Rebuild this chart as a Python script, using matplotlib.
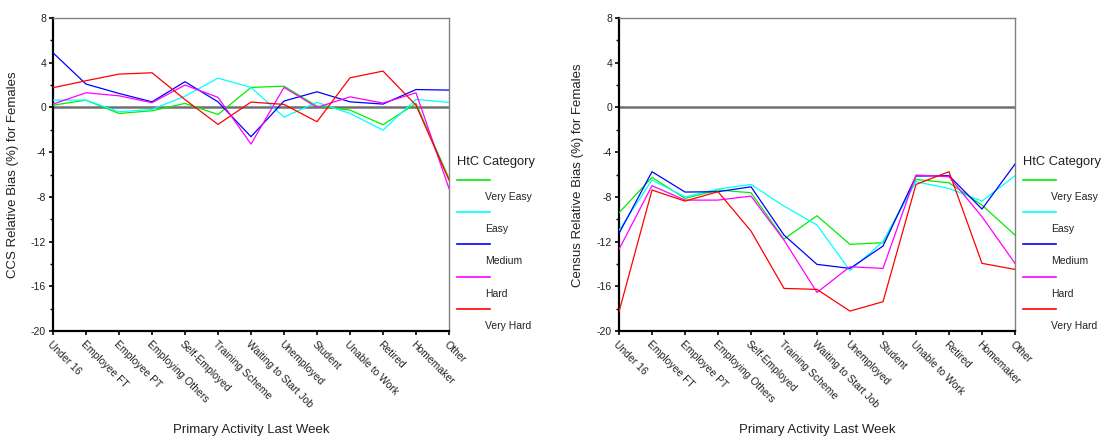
import matplotlib.pyplot as plt
from matplotlib.lines import Line2D
from matplotlib.ticker import MultipleLocator

plt.rcParams['font.family'] = ['Liberation Sans', 'DejaVu Sans']
plt.rcParams['axes.unicode_minus'] = False

categories = ["Under 16", "Employee FT", "Employee PT", "Employing Others",
              "Self-Employed", "Training Scheme", "Waiting to Start Job",
              "Unemployed", "Student", "Unable to Work", "Retired",
              "Homemaker", "Other"]
htc_labels = ["Very Easy", "Easy", "Medium", "Hard", "Very Hard"]
htc_colors = ["#00ee00", "#00ffff", "#0000ff", "#ff00ff", "#ff0000"]

# CCS relative bias (%) for females
ccs_very_easy = [0.2, 0.65, -0.54, -0.3, 0.36, -0.63, 1.79, 1.9, 0.12, -0.24, -1.55, 0.36, -6.35]
ccs_easy = [0.65, 0.65, -0.39, -0.18, 1.0, 2.62, 1.79, -0.86, 0.45, -0.54, -2.03, 0.72, 0.45]
ccs_medium = [4.89, 2.09, 1.25, 0.5, 2.3, 0.5, -2.62, 0.57, 1.4, 0.5, 0.3, 1.6, 1.55]
ccs_hard = [0.3, 1.31, 1.04, 0.42, 2.0, 0.9, -3.28, 1.79, 0.0, 0.95, 0.39, 1.31, -7.25]
ccs_very_hard = [1.76, 2.39, 2.98, 3.1, 0.7, -1.52, 0.48, 0.27, -1.28, 2.65, 3.25, 0.2, -6.5]

# Census relative bias (%) for females
census_very_easy = [-9.42, -6.26, -8.14, -7.39, -7.63, -11.78, -9.69, -12.25, -12.1, -6.44, -6.74, -8.74, -11.42]
census_easy = [-11.0, -6.5, -8.0, -7.3, -6.89, -8.83, -10.52, -14.6, -12.0, -6.65, -7.25, -8.38, -6.11]
census_medium = [-11.27, -5.75, -7.57, -7.54, -7.1, -11.42, -14.04, -14.4, -12.4, -6.14, -6.11, -9.09, -5.07]
census_hard = [-12.7, -7.0, -8.29, -8.29, -7.93, -11.87, -16.55, -14.25, -14.4, -6.05, -6.2, -9.78, -13.95]
census_very_hard = [-18.28, -7.39, -8.38, -7.54, -11.06, -16.19, -16.28, -18.22, -17.38, -6.89, -5.75, -13.95, -14.49]

ccs_series = [ccs_very_easy, ccs_easy, ccs_medium, ccs_hard, ccs_very_hard]
census_series = [census_very_easy, census_easy, census_medium, census_hard, census_very_hard]

W, H = 1105, 437
fig = plt.figure(figsize=(W / 100, H / 100), dpi=100)

panels = [
    (53, ccs_series, "CCS Relative Bias (%) for Females", 13),
    (619, census_series, "Census Relative Bias (%) for Females", 578),
]

for left_px, series, ylabel, ylab_px in panels:
    ax = fig.add_axes((left_px / W, 1 - 331 / H, 396 / W, 313 / H))
    x = list(range(len(categories)))
    for vals, col in zip(series, htc_colors):
        ax.plot(x, vals, color=col, linewidth=0.9, zorder=3)
    ax.axhline(0, color='#707070', linewidth=1.8, zorder=2)
    ax.set_xlim(0, len(categories) - 1)
    ax.set_ylim(-20, 8)
    ax.yaxis.set_major_locator(MultipleLocator(4))
    ax.yaxis.set_minor_locator(MultipleLocator(2))
    ax.set_xticks(x)
    ax.set_xticklabels(categories, rotation=-45, ha='left', va='top',
                       rotation_mode='anchor', fontsize=7.5)
    ax.tick_params(axis='x', length=3, width=1.2, pad=3, colors='black')
    ax.tick_params(axis='y', which='major', length=3, width=1.2, labelsize=7.5, pad=2)
    ax.tick_params(axis='y', which='minor', length=2, width=1.0)
    for lab in ax.get_xticklabels():
        lab.set_color('#222222')
    for lab in ax.get_yticklabels():
        lab.set_color('#222222')
    ax.spines['left'].set_linewidth(1.6)
    ax.spines['bottom'].set_linewidth(1.6)
    ax.spines['top'].set_color('#808080')
    ax.spines['right'].set_color('#808080')
    ax.spines['top'].set_linewidth(1.0)
    ax.spines['right'].set_linewidth(1.0)
    fig.text(ylab_px / W, 1 - 175 / H, ylabel, rotation=90, ha='center',
             va='center', fontsize=9.5, color='#222222')
    fig.text((left_px + 198) / W, 1 - 430 / H, "Primary Activity Last Week",
             ha='center', va='center', fontsize=9.5, color='#222222')

    # legend in the style of the original
    lx = left_px + 404
    fig.text(lx / W, 1 - 162 / H, "HtC Category", ha='left', va='center',
             fontsize=9.3, color='#222222')
    for i, (lab, col) in enumerate(zip(htc_labels, htc_colors)):
        ly = 180 + i * 32.2
        fig.add_artist(Line2D([lx / W, (lx + 33) / W], [1 - ly / H, 1 - ly / H],
                              color=col, linewidth=1.2, transform=fig.transFigure))
        fig.text((lx + 28) / W, 1 - (ly + 17) / H, lab, ha='left', va='center',
                 fontsize=7.5, color='#222222')

fig.savefig("out.png", dpi=100)
